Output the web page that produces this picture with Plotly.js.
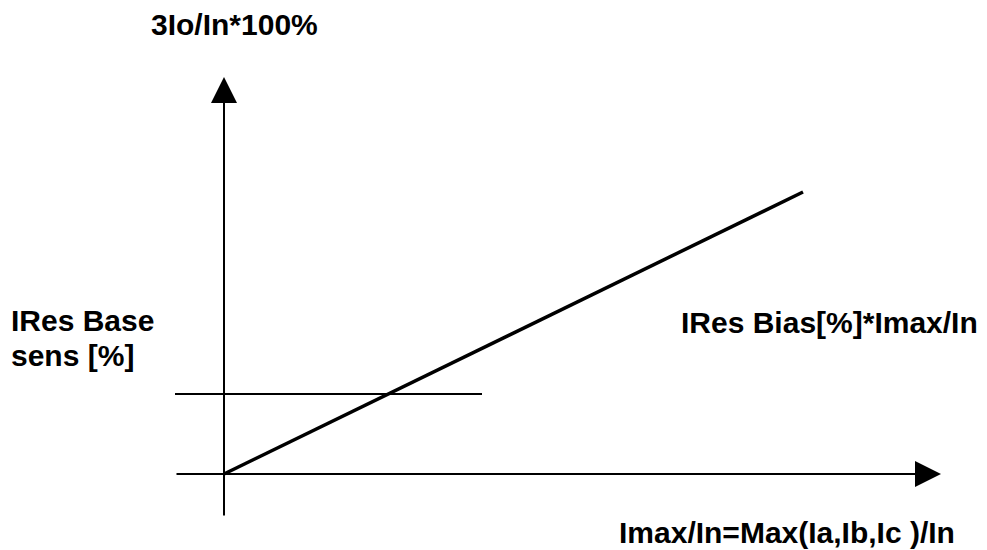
<!DOCTYPE html>
<html>
<head>
<meta charset="utf-8">
<script src="https://cdn.plot.ly/plotly-3.0.1.min.js"></script>
<style>html,body{margin:0;padding:0;background:#fff;}#chart{width:987px;height:550px;}</style>
</head>
<body>
<div id="chart"></div>
<script>
// Characteristic: x = Imax/In, y = 3Io/In*100%
const biasX = [0, 5.79];          // IRes Bias slope line
const biasY = [0, 70.5];
const baseX = [-0.49, 2.58];      // IRes Base sens level
const baseY = [20, 20];
const xAxisX = [-0.49, 7.17];     // horizontal axis arrow (tail, head)
const xAxisY = [0, 0];
const yAxisX = [0, 0];            // vertical axis arrow (tail, head)
const yAxisY = [-10.75, 99.25];

const labelTexts = ['3Io/In*100%', 'IRes Base', 'sens [%]', 'IRes Bias[%]*Imax/In', 'Imax/In=Max(Ia,Ib,Ic )/In'];

const W = 987, H = 550;
const px = v => v / W;
const py = v => 1 - v / H;
const FONT = {family: 'Liberation Sans, Arial, sans-serif', size: 30, color: '#000'};

const traces = [
  {x: biasX, y: biasY, mode: 'lines', line: {color: '#000', width: 3.5}, hoverinfo: 'skip'},
  {x: baseX, y: baseY, mode: 'lines', line: {color: '#000', width: 2}, hoverinfo: 'skip'}
];

const arrow = (xs, ys) => ({
  x: xs[1], y: ys[1], ax: xs[0], ay: ys[0],
  xref: 'x', yref: 'y', axref: 'x', ayref: 'y',
  showarrow: true, arrowhead: 2, arrowsize: 2.6, arrowwidth: 2, arrowcolor: '#000', text: ''
});

const label = (i, x, y, anchor) => ({
  text: '<b>' + labelTexts[i] + '</b>', xref: 'paper', yref: 'paper',
  x: px(x), y: py(y), xanchor: anchor || 'left', yanchor: 'middle',
  showarrow: false, align: 'left', font: FONT
});

const layout = {
  width: W, height: H,
  margin: {l: 0, r: 0, t: 0, b: 0},
  paper_bgcolor: '#fff', plot_bgcolor: '#fff',
  showlegend: false,
  xaxis: {range: [-2.24, 7.63], visible: false, fixedrange: true},
  yaxis: {range: [-19, 118.5], visible: false, fixedrange: true},
  annotations: [
    arrow(xAxisX, xAxisY),
    arrow(yAxisX, yAxisY),
    label(0, 149, 24),
    label(1, 9, 320),
    label(2, 9, 355),
    label(3, 679, 322),
    label(4, 617, 532)
  ]
};

Plotly.newPlot('chart', traces, layout, {staticPlot: true, displayModeBar: false});
</script>
</body>
</html>
